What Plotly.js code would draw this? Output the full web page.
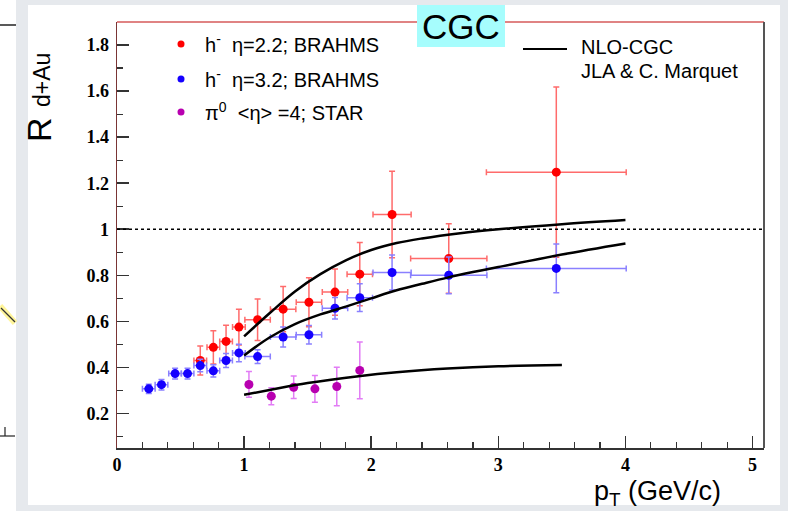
<!DOCTYPE html>
<html>
<head>
<meta charset="utf-8">
<script src="https://cdn.plot.ly/plotly-3.0.1.min.js"></script>
<style>
  html, body { margin: 0; padding: 0; background: #e6e9ed; }
  #chart { width: 788px; height: 511px; }
</style>
</head>
<body>
<div id="chart"></div>
<script>
// ---------- data ----------
// BRAHMS h-, eta = 2.2 (red)
const ptRed   = [0.655, 0.758, 0.858, 0.959, 1.106, 1.307, 1.51, 1.715, 1.91, 2.164, 2.61, 3.456];
const rdauRed = [0.43, 0.487, 0.513, 0.575, 0.607, 0.653, 0.683, 0.727, 0.805, 1.064, 0.873, 1.248];
const eyRed   = [0.063, 0.072, 0.07, 0.078, 0.09, 0.098, 0.106, 0.1, 0.137, 0.188, 0.151, 0.37];
const exRed   = [0.05, 0.05, 0.05, 0.05, 0.1, 0.1, 0.1, 0.1, 0.1, 0.15, 0.3, 0.55];

// BRAHMS h-, eta = 3.2 (blue)
const ptBlue   = [0.25, 0.35, 0.457, 0.555, 0.655, 0.758, 0.858, 0.959, 1.106, 1.307, 1.51, 1.715, 1.91, 2.164, 2.61, 3.456];
const rdauBlue = [0.307, 0.325, 0.373, 0.373, 0.408, 0.385, 0.43, 0.463, 0.447, 0.532, 0.542, 0.657, 0.703, 0.812, 0.80, 0.83];
const eyBlue   = [0.02, 0.023, 0.023, 0.023, 0.027, 0.027, 0.03, 0.038, 0.03, 0.043, 0.04, 0.047, 0.06, 0.076, 0.08, 0.106];
const exBlue   = [0.05, 0.05, 0.05, 0.05, 0.05, 0.05, 0.05, 0.05, 0.1, 0.1, 0.1, 0.1, 0.1, 0.15, 0.3, 0.55];

// STAR pi0, <eta> = 4 (purple)
const ptStar   = [1.038, 1.214, 1.39, 1.557, 1.729, 1.91];
const rdauStar = [0.326, 0.275, 0.314, 0.307, 0.317, 0.387];
const eyStar   = [0.056, 0.037, 0.049, 0.058, 0.084, 0.123];

// NLO-CGC curves (JLA & C. Marquet)
const cgcUpperX = [1.0, 1.2, 1.4, 1.6, 1.8, 2.0, 2.2, 2.4, 2.7, 3.0, 3.5, 4.0];
const cgcUpperY = [0.535, 0.635, 0.73, 0.805, 0.865, 0.91, 0.94, 0.96, 0.983, 1.0, 1.022, 1.04];
const cgcMidX   = [1.0, 1.2, 1.4, 1.6, 1.8, 2.0, 2.2, 2.4, 2.6, 2.8, 3.0, 3.5, 4.0];
const cgcMidY   = [0.452, 0.53, 0.588, 0.63, 0.664, 0.70, 0.735, 0.763, 0.79, 0.814, 0.836, 0.89, 0.938];
const cgcLowX   = [1.0, 1.2, 1.5, 1.9, 2.2, 2.6, 3.0, 3.5];
const cgcLowY   = [0.281, 0.302, 0.332, 0.362, 0.379, 0.395, 0.405, 0.41];

// ticks
const xTickVals = [0, 1, 2, 3, 4, 5];
const xTickText = ["0", "1", "2", "3", "4", "5"];
const yTickVals = [0.2, 0.4, 0.6, 0.8, 1.0, 1.2, 1.4, 1.6, 1.8];
const yTickText = ["0.2", "0.4", "0.6", "0.8", "1", "1.2", "1.4", "1.6", "1.8"];

// ---------- layout helpers (pixel -> paper) ----------
const W = 788, H = 511, L = 117, R = 764, T = 22, B = 448;
const px = x => (x - L) / (R - L);
const py = y => (B - y) / (B - T);

const RED = '#ff0000', RED_E = '#ff6b6b';
const BLUE = '#1500ff', BLUE_E = '#8a80ff';
const PUR = '#b800b0', PUR_E = '#e27cf5';

const curveLine = { color: '#000', width: 2.5, shape: 'spline', smoothing: 1 };

const traces = [
  {
    x: ptRed, y: rdauRed, type: 'scatter', mode: 'markers',
    marker: { color: RED, size: 9 },
    error_y: { type: 'data', array: eyRed, color: RED_E, thickness: 1.5, width: 3 },
    error_x: { type: 'data', array: exRed, color: RED_E, thickness: 1.5, width: 3 }
  },
  {
    x: ptBlue, y: rdauBlue, type: 'scatter', mode: 'markers',
    marker: { color: BLUE, size: 9 },
    error_y: { type: 'data', array: eyBlue, color: BLUE_E, thickness: 1.5, width: 3 },
    error_x: { type: 'data', array: exBlue, color: BLUE_E, thickness: 1.5, width: 3 }
  },
  {
    x: ptStar, y: rdauStar, type: 'scatter', mode: 'markers',
    marker: { color: PUR, size: 9 },
    error_y: { type: 'data', array: eyStar, color: PUR_E, thickness: 1.5, width: 3 }
  },
  { x: cgcUpperX, y: cgcUpperY, type: 'scatter', mode: 'lines', line: curveLine },
  { x: cgcMidX, y: cgcMidY, type: 'scatter', mode: 'lines', line: curveLine },
  { x: cgcLowX, y: cgcLowY, type: 'scatter', mode: 'lines', line: curveLine }
];

const tickFont = { family: 'Liberation Serif, serif', size: 18, color: '#000', weight: 'bold' };
const sans = 'Liberation Sans, Arial, sans-serif';

const shapes = [
  // slide background pieces
  { type: 'rect', xref: 'paper', yref: 'paper', x0: px(0), x1: px(16), y0: py(511), y1: py(0),
    fillcolor: '#ffffff', line: { width: 0 }, layer: 'below' },
  { type: 'rect', xref: 'paper', yref: 'paper', x0: px(28), x1: px(780), y0: py(505), y1: py(5),
    fillcolor: '#ffffff', line: { width: 0 }, layer: 'below' },
  // left edge artifacts of the slide
  { type: 'line', xref: 'paper', yref: 'paper', x0: px(0), x1: px(16), y0: py(25), y1: py(25),
    line: { color: '#222', width: 1.5 } },
  { type: 'line', xref: 'paper', yref: 'paper', x0: px(0), x1: px(15), y0: py(306), y1: py(323),
    line: { color: '#fff59a', width: 6 } },
  { type: 'line', xref: 'paper', yref: 'paper', x0: px(1), x1: px(15), y0: py(308), y1: py(322),
    line: { color: '#333', width: 1.2 } },
  { type: 'line', xref: 'paper', yref: 'paper', x0: px(0), x1: px(15), y0: py(436), y1: py(436),
    line: { color: '#222', width: 1.2 } },
  { type: 'line', xref: 'paper', yref: 'paper', x0: px(5), x1: px(5), y0: py(427), y1: py(436),
    line: { color: '#222', width: 1.2 } },
  // frame: top and right
  { type: 'line', xref: 'paper', yref: 'paper', x0: 0, x1: 1, y0: 1, y1: 1,
    line: { color: '#d65a5a', width: 1.5 } },
  { type: 'line', xref: 'paper', yref: 'paper', x0: 1, x1: 1, y0: 0, y1: 1,
    line: { color: '#555', width: 2 } },
  // R = 1 reference line
  { type: 'line', xref: 'paper', yref: 'y', x0: 0, x1: 1, y0: 1, y1: 1,
    line: { color: '#000', width: 1.5, dash: 'dot' } },
  // CGC box
  { type: 'rect', xref: 'paper', yref: 'paper', x0: px(417), x1: px(505), y0: py(47), y1: py(5),
    fillcolor: '#a6fdfd', line: { width: 0 }, layer: 'above' },
  // legend: NLO-CGC line
  { type: 'line', xref: 'paper', yref: 'paper', x0: px(523), x1: px(567), y0: py(49), y1: py(49),
    line: { color: '#000', width: 2 } }
];

// legend dots
[[RED, 44], [BLUE, 79], [PUR, 112]].forEach(([c, yy]) => {
  shapes.push({ type: 'circle', xref: 'paper', yref: 'paper', xsizemode: 'pixel', ysizemode: 'pixel',
    xanchor: px(181), yanchor: py(yy), x0: -3.5, x1: 3.5, y0: -3.5, y1: 3.5,
    fillcolor: c, line: { width: 0 } });
});

const ann = (text, x, y, size, opts) => Object.assign({
  text, xref: 'paper', yref: 'paper', x: px(x), y: py(y), showarrow: false,
  xanchor: 'left', yanchor: 'middle', font: { family: sans, size, color: '#000' }
}, opts || {});

const annotations = [
  ann('h<sup>-</sup>  η=2.2; BRAHMS', 203, 43, 20),
  ann('h<sup>-</sup>  η=3.2; BRAHMS', 203, 78, 20),
  ann('π<sup>0</sup>  &lt;η&gt; =4; STAR', 203, 111, 20),
  ann('NLO-CGC', 579, 47, 20),
  ann('JLA &amp; C. Marquet', 579, 71, 20),
  ann('CGC', 461, 26, 35, { xanchor: 'center' }),
  ann('R', 39, 130, 34, { xanchor: 'center', textangle: -90 }),
  ann('d+Au', 42, 80, 23, { xanchor: 'center', textangle: -90 }),
  ann('p<sub>T</sub> (GeV/c)', 723, 493, 27, { xanchor: 'right' })
];

const layout = {
  width: W, height: H,
  margin: { l: L, r: W - R, t: T, b: H - B, pad: 0 },
  paper_bgcolor: '#e6e9ed',
  plot_bgcolor: 'rgba(0,0,0,0)',
  showlegend: false,
  hovermode: false,
  xaxis: {
    range: [0, 5.09], tickmode: 'array', tickvals: xTickVals, ticktext: xTickText,
    ticks: 'inside', ticklen: 12, tickwidth: 1.5, tickcolor: '#333',
    minor: { tickmode: 'linear', tick0: 0, dtick: 0.2, ticks: 'inside', ticklen: 6, tickwidth: 1.2, tickcolor: '#333', showgrid: false },
    showgrid: false, zeroline: false, showline: true, linecolor: '#333', linewidth: 1.5,
    tickfont: tickFont, ticklabelstandoff: 0
  },
  yaxis: {
    range: [0.05, 1.9], tickmode: 'array', tickvals: yTickVals, ticktext: yTickText,
    ticks: 'inside', ticklen: 12, tickwidth: 1.5, tickcolor: '#333',
    minor: { tickmode: 'linear', tick0: 0, dtick: 0.1, ticks: 'inside', ticklen: 6, tickwidth: 1.2, tickcolor: '#333', showgrid: false },
    showgrid: false, zeroline: false, showline: true, linecolor: '#7a3535', linewidth: 1.5,
    tickfont: tickFont, ticklabelstandoff: 3
  },
  shapes, annotations
};

Plotly.newPlot('chart', traces, layout, { staticPlot: true, displayModeBar: false });
</script>
</body>
</html>
